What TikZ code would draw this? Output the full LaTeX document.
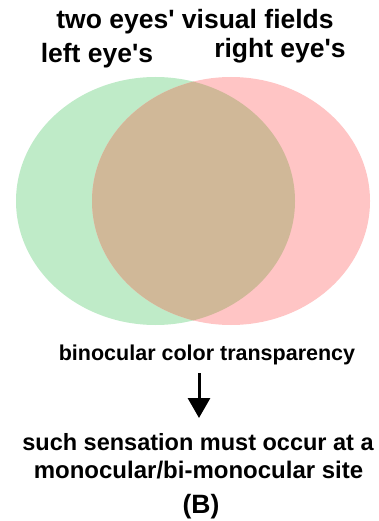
\documentclass[tikz,border=0pt]{standalone}
\usepackage{fontspec}
\setmainfont{Liberation Sans}
\usetikzlibrary{arrows.meta}
\definecolor{lgreen}{HTML}{BFEBC8}
\definecolor{lpink}{HTML}{FFC5C5}
\definecolor{lmix}{HTML}{D0B898}
\begin{document}
\begin{tikzpicture}[x=1pt,y=-1pt,
  lbl/.style={font=\bfseries\fontsize{#1}{#1}\selectfont, inner sep=0pt, anchor=base},
  arr/.style={line width=3pt, -{Triangle[length=20pt,width=22pt]}}]
\useasboundingbox (0,0) rectangle (378,521);
\fill[lgreen] (155.5,201) ellipse [x radius=139.5pt, y radius=124pt];
\fill[lpink] (231,201) ellipse [x radius=139pt, y radius=124pt];
\begin{scope}
\clip (155.5,201) ellipse [x radius=139.5pt, y radius=124pt];
\fill[lmix] (231,201) ellipse [x radius=139pt, y radius=124pt];
\end{scope}
\node[lbl=26.5] (title) at (195,29) {two eyes\textquotesingle{} visual fields};
\node[lbl=26.5] (left) at (97,63) {left eye\textquotesingle{}s};
\node[lbl=26.5] (right) at (280,58) {right eye\textquotesingle{}s};
\node[lbl=21.5] (bin) at (207,360) {binocular color transparency};
\coordinate (a1) at (199,373);
\coordinate (a2) at (199,418);
\draw[arr] (a1) -- (a2);
\node[lbl=23.5] (l1) at (198,450) {such sensation must occur at a};
\node[lbl=24] (l2) at (198.5,478) {monocular/bi-monocular site};
\node[lbl=26.5] (b) at (201,513) {(B)};
\end{tikzpicture}
\end{document}
